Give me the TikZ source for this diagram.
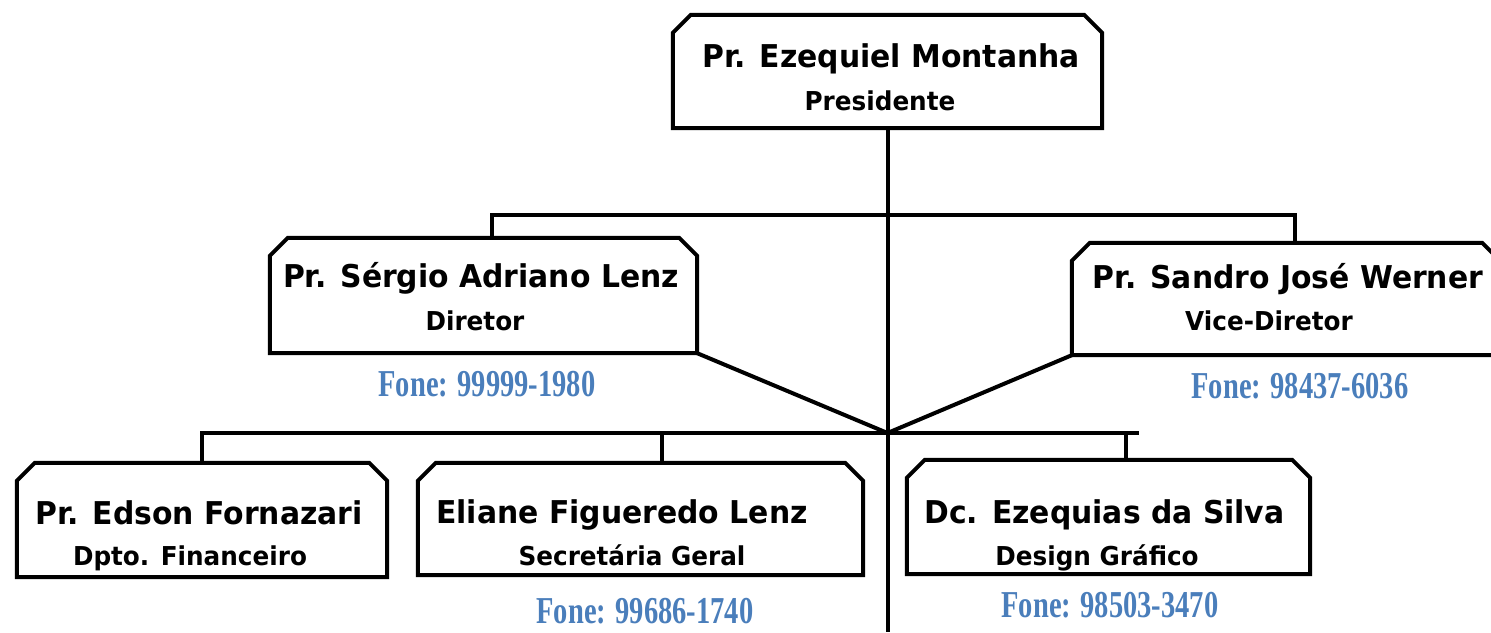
\documentclass[tikz,border=0pt]{standalone}
\usepackage{fontspec}
\newfontfamily\boxfont[FakeStretch=0.95]{DejaVu Sans}
\newfontfamily\phonefont[FakeStretch=0.75]{Liberation Serif}
\definecolor{phoneblue}{RGB}{74,126,187}
\begin{document}
\begin{tikzpicture}[x=1pt,y=-1pt,
  boxshape/.style={rectangle,inner sep=0pt},
  outline/.style={line width=4pt,line join=miter},
  conn/.style={line width=4pt},
  nametext/.style={anchor=base,inner sep=0pt,font=\boxfont\bfseries\fontsize{31.4}{36}\selectfont},
  roletext/.style={anchor=base,inner sep=0pt,font=\boxfont\bfseries\fontsize{26}{30}\selectfont},
  phonetext/.style={anchor=base,inner sep=0pt,text=phoneblue,font=\phonefont\bfseries\fontsize{38}{44}\selectfont}]
\useasboundingbox (0,0) rectangle (1491,632);
\clip (0,0) rectangle (1491,632);
\fill[white] (0,0) rectangle (1491,632);

% boxes
\node[boxshape,minimum width=429pt,minimum height=113pt] (p) at (887.5,71.5) {};
\node[boxshape,minimum width=427pt,minimum height=115pt] (d) at (483.5,295.5) {};
\node[boxshape,minimum width=428pt,minimum height=112pt] (v) at (1286,299) {};
\node[boxshape,minimum width=370pt,minimum height=114pt] (f) at (202,520) {};
\node[boxshape,minimum width=445pt,minimum height=112pt] (s) at (640.5,519) {};
\node[boxshape,minimum width=403pt,minimum height=114pt] (g) at (1108.5,517) {};

\foreach \n in {p,d,v,f,s,g}
  \draw[outline] (\n.south west) -- ([yshift=-18pt]\n.north west) -- ([xshift=18pt]\n.north west)
    -- ([xshift=-18pt]\n.north east) -- ([yshift=-18pt]\n.north east) -- (\n.south east) -- cycle;

% junctions
\coordinate (j1) at (887.5,215);
\coordinate (j2) at (887.5,433);
\coordinate (bot) at (887.5,632);
\coordinate (stub) at (1139,433);

% connectors
\draw[conn] (p.south) -- (j2) -- (bot);
\draw[conn] ([xshift=8.5pt]d.north) |- (j1) -| ([xshift=9pt]v.north);
\draw[conn] (d.south east) -- (j2) -- (v.south west);
\draw[conn] (f.north) |- (stub);
\draw[conn] ([xshift=21.5pt]s.north) -- ([xshift=21.5pt]s.north |- stub);
\draw[conn] ([xshift=17.5pt]g.north) -- ([xshift=17.5pt]g.north |- stub);

% texts
\node[nametext] (pn) at (891,67) {Pr. Ezequiel Montanha};
\node[roletext] (pr) at (880,110) {Presidente};
\node[nametext] (dn) at (481,287) {Pr. Sérgio Adriano Lenz};
\node[roletext] (dr) at (475,330) {Diretor};
\node[nametext] (vn) at (1288,288) {Pr. Sandro José Werner};
\node[roletext] (vr) at (1269,330) {Vice-Diretor};
\node[nametext] (fn) at (199,524) {Pr. Edson Fornazari};
\node[roletext] (fr) at (190,565) {Dpto. Financeiro};
\node[nametext] (sn) at (622,523) {Eliane Figueredo Lenz};
\node[roletext] (sr) at (632,565) {Secretária Geral};
\node[nametext] (gn) at (1104.5,523) {Dc. Ezequias da Silva};
\node[roletext] (gr) at (1097,565) {Design Gráfico};

% phones
\node[phonetext] (dph) at (487,396) {Fone: 99999-1980};
\node[phonetext] (vph) at (1300,398) {Fone: 98437-6036};
\node[phonetext] (sph) at (645,623) {Fone: 99686-1740};
\node[phonetext] (gph) at (1110,617) {Fone: 98503-3470};
\end{tikzpicture}
\end{document}
